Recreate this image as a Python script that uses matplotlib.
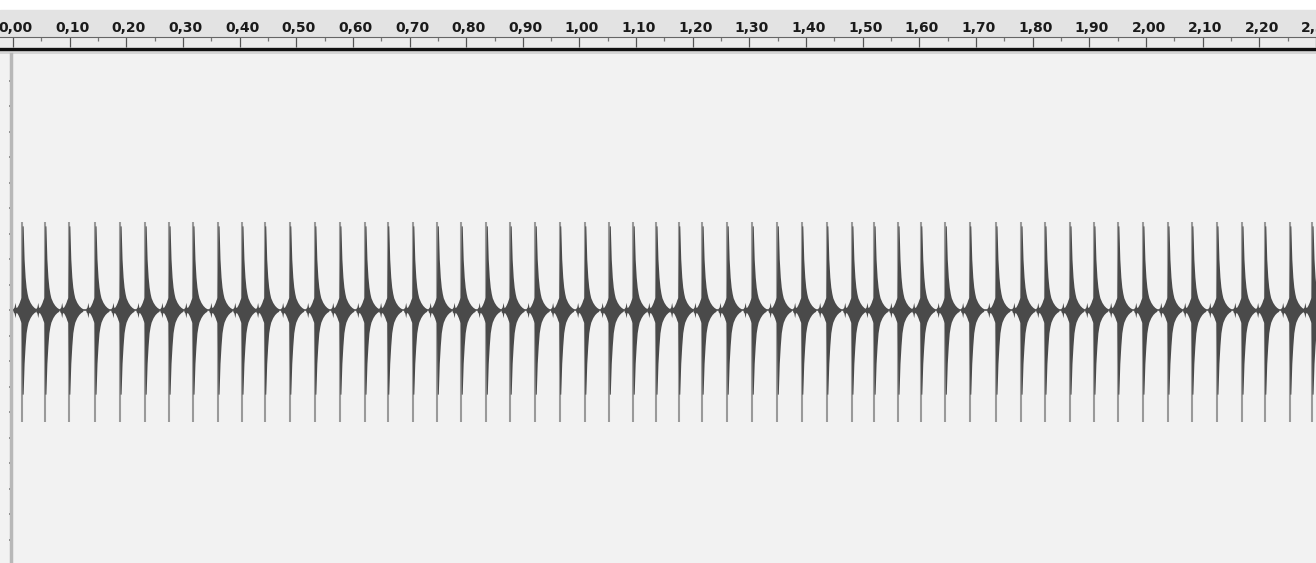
import numpy as np
import matplotlib
matplotlib.use("Agg")
import matplotlib.pyplot as plt
from matplotlib.patches import Rectangle
from matplotlib.transforms import offset_copy

# ------------------------------------------------------------------
#  data
# ------------------------------------------------------------------

# time (s) of every click peak
spike_times = [0.016, 0.056, 0.098, 0.144, 0.188, 0.232, 0.274, 0.316, 0.360,
               0.402, 0.442, 0.486, 0.530, 0.574, 0.618, 0.658, 0.702, 0.745,
               0.787, 0.831, 0.873, 0.917, 0.960, 1.004, 1.047, 1.089, 1.129,
               1.169, 1.210, 1.254, 1.298, 1.342, 1.385, 1.429, 1.473, 1.512,
               1.554, 1.594, 1.637, 1.680, 1.726, 1.770, 1.812, 1.856, 1.898,
               1.940, 1.984, 2.028, 2.070, 2.114, 2.158, 2.198, 2.242, 2.281]

# envelope of one click, relative to its peak (ms, amplitude)
pulse_ms  = [-16, -14, -12.5, -11, -9, -7, -5, -3.5, -1.5, 0, 1.8, 3.5, 5.3, 7, 8.8, 10.5, 14, 17.5, 21, 24.5]
pulse_top = [0.006, 0.012, 0.03, 0.01, 0.012, 0.02, 0.03, 0.04, 0.05, 0.33, 0.33,
             0.20, 0.13, 0.09, 0.065, 0.048, 0.03, 0.018, 0.01, 0.005]
pulse_bot = [-0.006, -0.012, -0.03, -0.01, -0.012, -0.02, -0.03, -0.04, -0.05, -0.33, -0.33,
             -0.21, -0.14, -0.09, -0.065, -0.048, -0.03, -0.018, -0.01, -0.005]

peak_pos = 0.345
peak_neg = -0.44

ruler_ticks = np.round(np.arange(0.0, 2.31, 0.1), 2)
ruler_labels = [("%.2f" % v).replace(".", ",") for v in ruler_ticks]

# ------------------------------------------------------------------
W, H = 1316, 563
px_per_s = 569.5
x0 = 13.0                       # pixel of t = 0
tmin = -x0 / px_per_s
tmax = (W - x0) / px_per_s
t_spine = -2.0 / px_per_s

def fy(y):
    return 1.0 - y / H

fig = plt.figure(figsize=(W / 100, H / 100), dpi=100, facecolor="white")

# ruler band (behind the axes)
fig.patches.append(Rectangle((0, fy(47)), 1, 37 / H, transform=fig.transFigure,
                             color="#e3e3e3", zorder=-5))
fig.patches.append(Rectangle((0, fy(53.5)), 1, 4.5 / H, transform=fig.transFigure,
                             color="#d6d6d6", zorder=-5))

rax = fig.add_axes([0, fy(48.5), 1, 11.5 / H])
rax.set_facecolor("#ececec")
rax.set_xlim(tmin, tmax)
rax.set_ylim(0, 1)
rax.set_yticks([])
for s in ["left", "right"]:
    rax.spines[s].set_visible(False)
rax.spines["top"].set_linewidth(0.8)
rax.spines["top"].set_color("#666666")
rax.spines["bottom"].set_linewidth(2.4)
rax.spines["bottom"].set_color("#111111")
rax.xaxis.tick_top()
rax.set_xticks(ruler_ticks)
rax.set_xticklabels([])
rax.set_xticks(ruler_ticks[:-1] + 0.05, minor=True)
rax.tick_params(axis="x", which="major", direction="in", length=7.5, width=0.9,
                color="#555555")
rax.tick_params(axis="x", which="minor", direction="in", length=3, width=0.9,
                color="#777777")

# ruler labels sit a little right of their tick, as in the audio editor
lab_tr = offset_copy(rax.get_xaxis_transform(), fig=fig, x=2.5, y=4.5, units="dots")
for t, s in zip(ruler_ticks, ruler_labels):
    rax.text(t, 1, s, transform=lab_tr, ha="center", va="baseline",
             fontsize=10, fontweight="bold", color="#1a1a1a", clip_on=False)

# waveform
ax = fig.add_axes([0, 0, 1, fy(53.5)])
ax.set_facecolor("#f2f2f2")
ax.set_xlim(tmin, tmax)
ax.set_ylim(-(H - 310) / 255.0, (310 - 53.5) / 255.0)

for s in ["top", "right", "bottom"]:
    ax.spines[s].set_visible(False)
ax.spines["left"].set_position(("data", t_spine))
ax.spines["left"].set_color("#b8b8b8")
ax.spines["left"].set_linewidth(2.5)
ax.set_xticks([])
ax.set_yticks(np.round(np.arange(-0.9, 1.0, 0.1), 1))
ax.set_yticklabels([])
ax.tick_params(axis="y", direction="inout", length=3, width=1.2, color="#777777")

ax.hlines(0, t_spine, tmax, color="#666666", lw=1.4, zorder=2)
ax.vlines(spike_times, peak_neg, peak_pos, color="#9a9a9a", lw=1.5, zorder=2)

off = np.array(pulse_ms) / 1000.0
for t in spike_times:
    ax.fill_between(t + off, pulse_bot, pulse_top, color="#4a4a4a", lw=0,
                    zorder=3)

fig.savefig("out.png", dpi=100, facecolor="white")
